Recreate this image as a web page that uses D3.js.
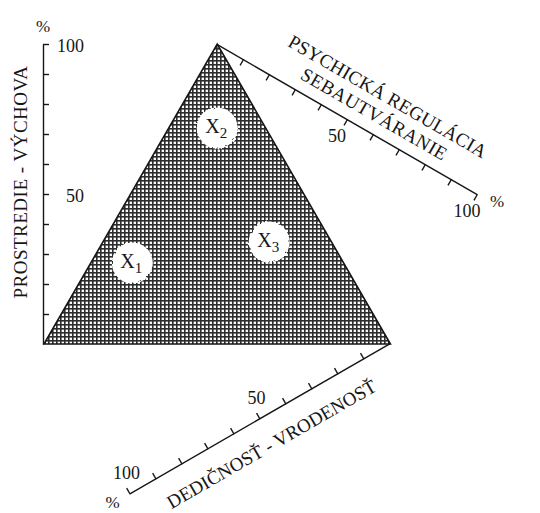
<!DOCTYPE html>
<html><head><meta charset="utf-8">
<script src="https://cdn.jsdelivr.net/npm/d3@7"></script>
<style>
html,body{margin:0;padding:0;background:#fff;}
svg{display:block;}
text{font-family:"Liberation Serif","Times New Roman",serif;fill:#161616;}
</style></head><body>
<svg id="c" width="540" height="513"></svg>
<script>
// ---- data ----
const leftTitle = "PROSTREDIE - VÝCHOVA";
const upperTitle = ["PSYCHICKÁ REGULÁCIA", "SEBAUTVÁRANIE"];
const lowerTitle = "DEDIČNOSŤ - VRODENOSŤ";
const tickValues = [10, 20, 30, 40, 50, 60, 70, 80, 90, 100];
const labeledTicks = [50, 100];
const unitLabel = "%";
const pointNames = ["1", "2", "3"];
const envValues = [27, 72, 34];     // PROSTREDIE - VÝCHOVA
const psychValues = [12, 14, 48];   // PSYCHICKÁ REGULÁCIA
const heredValues = [61, 14, 18];   // DEDIČNOSŤ - VRODENOSŤ

// ---- geometry ----
const svg = d3.select("#c");
const H = 300;
const dist = d3.scaleLinear().domain([0, 100]).range([0, H]);
const yEnv = d3.scaleLinear().domain([0, 100]).range([344, 44]);
const axisX = 43;
const side = H / Math.sin(Math.PI / 3);
const L = [44, yEnv(0)], R = [44 + side, yEnv(0)], T = [44 + side / 2, yEnv(100)];
const ang = Math.PI / 6;
const u = [Math.cos(ang), Math.sin(ang)];    // upper axis direction
const v = [-Math.cos(ang), Math.sin(ang)];   // lower axis direction
const ink = "#161616";

function ternary(e, p, h) {
  const s = e + p + h;
  return [(e * T[0] + p * R[0] + h * L[0]) / s, (e * T[1] + p * R[1] + h * L[1]) / s];
}

// ---- defs ----
const defs = svg.append("defs");
const pat = defs.append("pattern").attr("id", "hatch")
  .attr("patternUnits", "userSpaceOnUse").attr("width", 4).attr("height", 4);
pat.append("rect").attr("width", 4).attr("height", 4).attr("fill", "#fafafa");
pat.append("rect").attr("width", 4).attr("height", 1.6).attr("fill", "#2c2c2c");
pat.append("rect").attr("width", 1.6).attr("height", 4).attr("fill", "#2c2c2c");

const filt = defs.append("filter").attr("id", "rough").attr("x", "-20%").attr("y", "-20%").attr("width", "140%").attr("height", "140%");
filt.append("feTurbulence").attr("type", "fractalNoise").attr("baseFrequency", 0.35).attr("numOctaves", 2).attr("result", "n");
filt.append("feDisplacementMap").attr("in", "SourceGraphic").attr("in2", "n").attr("scale", 4);

// ---- triangle ----
svg.append("path")
  .attr("d", d3.line()([L, T, R]) + "Z")
  .attr("fill", "url(#hatch)")
  .attr("stroke", ink).attr("stroke-width", 1.6).attr("stroke-linejoin", "miter");

// ---- points ----
const pts = pointNames.map((n, i) => ({ n, pos: ternary(envValues[i], psychValues[i], heredValues[i]) }));
svg.append("g").selectAll("circle").data(pts).join("circle")
  .attr("cx", d => d.pos[0]).attr("cy", d => d.pos[1]).attr("r", 20.5)
  .attr("fill", "#fff").attr("filter", "url(#rough)");
const lbl = svg.append("g").selectAll("text").data(pts).join("text")
  .attr("x", d => d.pos[0] - 1).attr("y", d => d.pos[1] + 5)
  .attr("text-anchor", "middle");
lbl.append("tspan").attr("font-size", 20).text("X");
lbl.append("tspan").attr("font-size", 15).attr("dy", 5).text(d => d.n);

// ---- axes ----
function styleAxis(g) {
  g.attr("color", ink);
  g.selectAll("path,line").attr("stroke-width", 1.4);
}
svg.append("g").attr("transform", `translate(${axisX},0)`)
  .call(d3.axisRight(yEnv).tickValues(tickValues).tickSize(6).tickSizeOuter(0).tickFormat(""))
  .call(styleAxis);
svg.append("g").attr("transform", `translate(${T[0]},${T[1]}) rotate(30)`)
  .call(d3.axisBottom(dist).tickValues(tickValues).tickSize(7).tickSizeOuter(0).tickFormat(""))
  .call(styleAxis);
svg.append("g").attr("transform", `translate(${R[0]},${R[1]}) rotate(150)`)
  .call(d3.axisBottom(dist).tickValues(tickValues).tickSize(7).tickSizeOuter(0).tickFormat(""))
  .call(styleAxis);

// tick labels
const fs = 18;
svg.append("g").selectAll("text").data(labeledTicks).join("text")
  .attr("x", axisX + 41).attr("y", d => yEnv(d) + 2).attr("dy", "0.35em")
  .attr("text-anchor", "end").attr("font-size", fs).text(d => d);
svg.append("g").selectAll("text").data(labeledTicks).join("text")
  .attr("x", d => T[0] + dist(d) * u[0] - 10).attr("y", d => T[1] + dist(d) * u[1] + 17).attr("dy", "0.35em")
  .attr("text-anchor", "middle").attr("font-size", fs).text(d => d);
svg.append("g").selectAll("text").data(labeledTicks).join("text")
  .attr("x", d => R[0] + dist(d) * v[0] - 4).attr("y", d => R[1] + dist(d) * v[1] - 21).attr("dy", "0.35em")
  .attr("text-anchor", "middle").attr("font-size", fs).text(d => d);

// unit labels
const uEnd = [T[0] + dist(100) * u[0], T[1] + dist(100) * u[1]];
const vEnd = [R[0] + dist(100) * v[0], R[1] + dist(100) * v[1]];
[[axisX, yEnv(100) - 18], [uEnd[0] + 20, uEnd[1] + 7], [vEnd[0] - 18, vEnd[1] + 8]].forEach(p => {
  svg.append("text").attr("x", p[0]).attr("y", p[1]).attr("dy", "0.35em")
    .attr("text-anchor", "middle").attr("font-size", 17).text(unitLabel);
});

// titles
const tfs = 19;
svg.append("text")
  .attr("transform", `translate(${axisX - 23},${yEnv(54)}) rotate(-90)`)
  .attr("dy", "0.35em").attr("text-anchor", "middle").attr("font-size", tfs)
  .attr("letter-spacing", 0.5).text(leftTitle);
const ug = svg.append("g").attr("transform", `translate(${T[0]},${T[1]}) rotate(30)`);
ug.selectAll("text").data(upperTitle).join("text")
  .attr("x", (d, i) => dist(i === 0 ? 58 : 57)).attr("y", (d, i) => i === 0 ? -40 : -18).attr("dy", "0.35em")
  .attr("text-anchor", "middle").attr("font-size", tfs)
  .attr("letter-spacing", (d, i) => i === 0 ? 0.2 : 0.5).text(d => d);
const lc = [R[0] + dist(51) * v[0] + 27 * 0.5, R[1] + dist(51) * v[1] + 27 * 0.866];
svg.append("text")
  .attr("transform", `translate(${lc[0]},${lc[1]}) rotate(-30)`)
  .attr("dy", "0.35em").attr("text-anchor", "middle").attr("font-size", tfs).text(lowerTitle);
</script>
</body></html>
